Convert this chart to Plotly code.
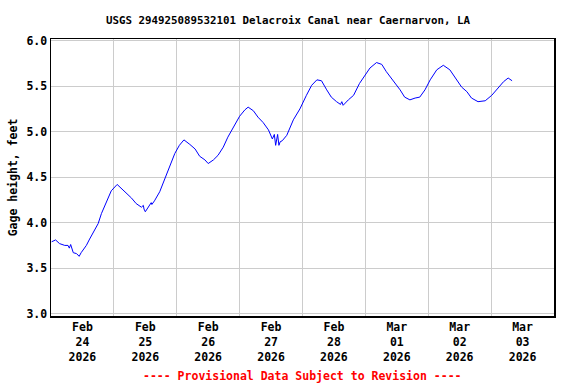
import plotly.graph_objects as go

# Gage height readings (feet)
times = [
    "2026-02-24 00:15", "2026-02-24 01:45", "2026-02-24 03:15", "2026-02-24 05:15",
    "2026-02-24 06:30", "2026-02-24 07:00", "2026-02-24 07:30", "2026-02-24 08:30",
    "2026-02-24 09:45", "2026-02-24 10:45", "2026-02-24 11:30", "2026-02-24 13:30",
    "2026-02-24 14:45", "2026-02-24 16:00", "2026-02-24 18:00", "2026-02-24 19:15",
    "2026-02-24 21:15", "2026-02-24 23:00", "2026-02-25 01:15", "2026-02-25 02:45",
    "2026-02-25 04:45", "2026-02-25 06:45", "2026-02-25 08:30", "2026-02-25 10:30",
    "2026-02-25 11:15", "2026-02-25 11:30", "2026-02-25 12:00", "2026-02-25 13:45",
    "2026-02-25 14:15", "2026-02-25 14:30", "2026-02-25 15:30", "2026-02-25 17:30",
    "2026-02-25 19:30", "2026-02-25 21:15", "2026-02-25 23:15", "2026-02-26 01:00",
    "2026-02-26 02:45", "2026-02-26 05:00", "2026-02-26 07:00", "2026-02-26 08:45",
    "2026-02-26 10:45", "2026-02-26 12:00", "2026-02-26 14:00", "2026-02-26 15:45",
    "2026-02-26 17:45", "2026-02-26 19:30", "2026-02-26 21:30", "2026-02-27 00:00",
    "2026-02-27 02:00", "2026-02-27 03:15", "2026-02-27 05:15", "2026-02-27 07:00",
    "2026-02-27 09:00", "2026-02-27 11:00", "2026-02-27 12:30", "2026-02-27 13:15",
    "2026-02-27 13:45", "2026-02-27 14:30", "2026-02-27 15:00", "2026-02-27 15:30",
    "2026-02-27 16:15", "2026-02-27 18:00", "2026-02-27 20:30", "2026-02-27 23:00",
    "2026-02-28 01:30", "2026-02-28 03:30", "2026-02-28 05:30", "2026-02-28 07:15",
    "2026-02-28 09:15", "2026-02-28 11:00", "2026-02-28 13:00", "2026-02-28 14:30",
    "2026-02-28 15:00", "2026-02-28 15:30", "2026-02-28 17:30", "2026-02-28 19:30",
    "2026-02-28 21:45", "2026-02-28 23:45", "2026-03-01 01:45", "2026-03-01 04:15",
    "2026-03-01 06:15", "2026-03-01 08:00", "2026-03-01 10:30", "2026-03-01 13:15",
    "2026-03-01 15:00", "2026-03-01 17:00", "2026-03-01 19:00", "2026-03-01 20:45",
    "2026-03-01 22:45", "2026-03-02 00:45", "2026-03-02 03:15", "2026-03-02 05:45",
    "2026-03-02 08:15", "2026-03-02 10:15", "2026-03-02 12:45", "2026-03-02 14:45",
    "2026-03-02 16:30", "2026-03-02 19:00", "2026-03-02 21:45", "2026-03-03 00:15",
    "2026-03-03 02:45", "2026-03-03 04:45", "2026-03-03 06:30", "2026-03-03 08:00",
]
gage_height = [
    3.79, 3.81, 3.77, 3.75,
    3.75, 3.72, 3.76, 3.67,
    3.66, 3.63, 3.67, 3.75,
    3.82, 3.88, 3.99, 4.10,
    4.24, 4.35, 4.42, 4.38,
    4.32, 4.27, 4.21, 4.17,
    4.19, 4.15, 4.12, 4.19,
    4.22, 4.20, 4.24, 4.34,
    4.48, 4.61, 4.76, 4.85,
    4.91, 4.86, 4.81, 4.73,
    4.69, 4.65, 4.69, 4.74,
    4.83, 4.94, 5.05, 5.17,
    5.24, 5.27, 5.23, 5.16,
    5.10, 5.02, 4.92, 4.97,
    4.85, 4.97, 4.85, 4.89,
    4.90, 4.96, 5.13, 5.25,
    5.40, 5.51, 5.57, 5.56,
    5.46, 5.38, 5.33, 5.30,
    5.33, 5.29, 5.35, 5.40,
    5.53, 5.62, 5.70, 5.76,
    5.74, 5.66, 5.57, 5.46,
    5.38, 5.35, 5.37, 5.38,
    5.46, 5.57, 5.68, 5.73,
    5.68, 5.59, 5.49, 5.44,
    5.37, 5.33, 5.34, 5.40,
    5.48, 5.55, 5.59, 5.56,
]

# Axis ticks
x_label_dates = ["2026-02-24", "2026-02-25", "2026-02-26", "2026-02-27",
                 "2026-02-28", "2026-03-01", "2026-03-02", "2026-03-03"]
x_label_text = ["Feb<br>24<br>2026", "Feb<br>25<br>2026", "Feb<br>26<br>2026",
                "Feb<br>27<br>2026", "Feb<br>28<br>2026", "Mar<br>01<br>2026",
                "Mar<br>02<br>2026", "Mar<br>03<br>2026"]
x_grid_dates = ["2026-02-25", "2026-02-26", "2026-02-27", "2026-02-28",
                "2026-03-01", "2026-03-02", "2026-03-03"]
y_ticks = [3.0, 3.5, 4.0, 4.5, 5.0, 5.5, 6.0]
y_tick_text = ["3.0", "3.5", "4.0", "4.5", "5.0", "5.5", "6.0"]

FONT = "DejaVu Sans Mono"

fig = go.Figure()
fig.add_trace(go.Scatter(
    x=times, y=gage_height, mode="lines",
    line=dict(color="#0000ff", width=1),
    hoverinfo="skip", showlegend=False,
))

fig.update_layout(
    width=576, height=384,
    margin=dict(l=51, r=22, t=39, b=68),
    paper_bgcolor="white", plot_bgcolor="white",
    font=dict(family=FONT, size=11, color="black", weight="bold"),
    title=dict(text="USGS 294925089532101 Delacroix Canal near Caernarvon, LA",
               x=0.5, xanchor="center", y=0.948, yanchor="middle",
               font=dict(family=FONT, size=10.8, color="black", weight="bold")),
    xaxis=dict(
        type="date",
        range=["2026-02-24 00:00", "2026-03-04 00:00"],
        tickmode="array",
        tickvals=[d + " 12:00" for d in x_label_dates],
        ticktext=x_label_text,
        ticks="", showgrid=False, automargin=False,
        tickfont=dict(family=FONT, size=11.5, color="black", weight="bold"),
        showline=True, linecolor="black", linewidth=1.5, mirror=True,
        minor=dict(tickmode="array", tickvals=x_grid_dates, showgrid=True,
                   gridcolor="#cccccc", gridwidth=1, ticks=""),
        zeroline=False,
    ),
    yaxis=dict(
        range=[2.974, 6.019],
        tickmode="array", tickvals=y_ticks, ticktext=y_tick_text,
        ticks="", showgrid=True, gridcolor="#cccccc", gridwidth=1,
        automargin=False,
        tickfont=dict(family=FONT, size=11.5, color="black", weight="bold"),
        showline=True, linecolor="black", linewidth=1.5, mirror=True,
        zeroline=False,
        title=dict(text="Gage height, feet", standoff=6,
                   font=dict(family=FONT, size=11.5, color="black", weight="bold")),
    ),
    annotations=[dict(
        text="---- Provisional Data Subject to Revision ----",
        xref="paper", yref="paper", x=0.5, y=-0.215,
        xanchor="center", yanchor="middle", showarrow=False,
        font=dict(family=FONT, size=11.5, color="#ff0000", weight="bold"),
    )],
)

fig.write_html("out.html",
               config={"displayModeBar": False, "staticPlot": True},
               post_script="document.body.style.margin='0';document.body.style.padding='0';")
